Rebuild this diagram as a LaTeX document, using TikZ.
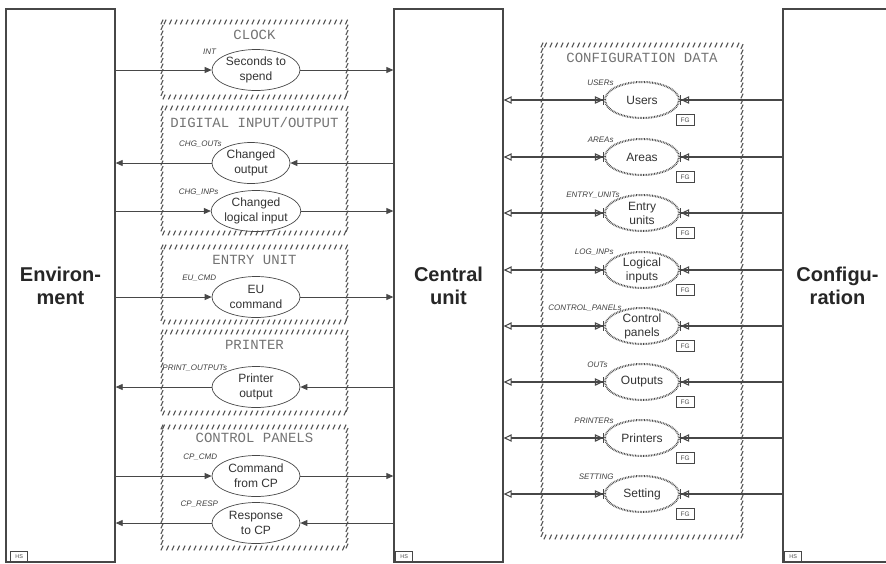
\documentclass[tikz,border=0pt]{standalone}
\usepackage{fontspec}
\setmainfont{Liberation Sans}
\newfontfamily\grpfont{Liberation Mono}
\usetikzlibrary{arrows.meta,shapes.geometric,positioning,decorations.markings}
\definecolor{ink}{gray}{0.28}
\definecolor{hatchgray}{gray}{0.33}
\tikzset{
  bigbox/.style={draw=ink,line width=1.3pt,minimum width=109pt,minimum height=553pt,inner sep=0pt,align=center,font=\fontsize{20}{23}\selectfont\bfseries,text=black!85},
  flowell/.style={ellipse,draw=ink,line width=0.7pt,minimum width=88pt,minimum height=41pt,inner sep=0pt,align=center,font=\fontsize{12}{15}\selectfont,text=black!80},
  dataell/.style={ellipse,draw=ink,line width=2pt,dash pattern=on 0.7pt off 0.9pt,minimum width=74pt,minimum height=36pt,inner sep=0pt,align=center,font=\fontsize{12}{14}\selectfont,text=black!80},
  lbl/.style={font=\fontsize{8}{9}\selectfont\itshape,text=black!75,inner sep=0.5pt,label distance=1pt},
  grptitle/.style={font=\grpfont\fontsize{14}{16}\selectfont,text=black!55},
  fg/.style={draw=ink,line width=0.6pt,font=\fontsize{6.5}{7}\selectfont,inner sep=0pt,minimum width=18pt,minimum height=11pt,text=black!70},
  hs/.style={draw=ink,line width=0.6pt,font=\fontsize{5.5}{6}\selectfont,inner sep=0pt,minimum width=17pt,minimum height=10pt,text=black!70},
  flow/.style={draw=ink,line width=0.8pt,-{Triangle[length=7pt,width=6pt]}},
  cfgflow/.style={draw=ink,line width=1.1pt,-{Triangle[open,length=8pt,width=7.5pt]Bar[width=10pt]}},
  cuflow/.style={draw=ink,line width=1.1pt,{Triangle[open,length=8pt,width=7.5pt]}-{Triangle[open,length=8pt,width=7.5pt]Bar[width=10pt]}},
  hatch/.style={postaction={decorate,decoration={markings,mark=between positions 0 and 1 step 5.5pt with {\pgftransformresetnontranslations\draw[hatchgray,line width=1.1pt] (-1.1pt,-2.4pt) -- (1.1pt,2.4pt);}}}},
}
\begin{document}
\begin{tikzpicture}[x=1pt,y=-1pt]
\clip (0,0) rectangle (886,563);
% the three units
\node[bigbox] (env) at (60.5,285.5) {Environ-\\ment};
\node[bigbox] (cu) at (448.5,285.5) {Central\\unit};
\node[bigbox] (cfg) at (837.5,285.5) {Configu-\\ration};
\node[hs,anchor=south west] (envhs) at ([xshift=5pt,yshift=1pt]env.south west) {HS};
\node[hs,anchor=south west] (cuhs) at ([xshift=2pt,yshift=1pt]cu.south west) {HS};
\node[hs,anchor=south west] (cfghs) at ([xshift=2pt,yshift=1pt]cfg.south west) {HS};
% groups between environment and central unit
\path[hatch] (162,22) rectangle (347,97);   \node[grptitle] (tclock) at (254.5,35) {CLOCK};
\path[hatch] (162,108) rectangle (347,233); \node[grptitle] (tdio) at (254.5,122) {DIGITAL INPUT/OUTPUT};
\path[hatch] (162,247) rectangle (347,322); \node[grptitle] (teu) at (254.5,260) {ENTRY UNIT};
\path[hatch] (162,332) rectangle (347,413); \node[grptitle] (tprn) at (254.5,345) {PRINTER};
\path[hatch] (162,427) rectangle (347,548); \node[grptitle] (tcp) at (254.5,438) {CONTROL PANELS};
\node[flowell,label={[lbl,xshift=-7pt]north west:INT}] (seconds) at (256,70) {Seconds to\\spend};
\node[flowell,minimum width=78pt,label={[lbl]north west:CHG\_OUTs}] (chgout) at (251,163) {Changed\\output};
\node[flowell,label={[lbl,xshift=-4pt]north west:CHG\_INPs}] (chginp) at (256,211) {Changed\\logical input};
\node[flowell,label={[lbl,xshift=-7pt]north west:EU\_CMD}] (eucmd) at (256,297) {EU\\command};
\node[flowell,label={[lbl,xshift=4pt]north west:PRINT\_OUTPUTs}] (prnout) at (256,387) {Printer\\output};
\node[flowell,label={[lbl,xshift=-6pt]north west:CP\_CMD}] (cpcmd) at (256,476) {Command\\from CP};
\node[flowell,label={[lbl,xshift=-5pt]north west:CP\_RESP}] (cpresp) at (256,523) {Response\\to CP};
\draw[flow] (env.east |- seconds) -- (seconds); \draw[flow] (seconds) -- (cu.west |- seconds);
\draw[flow] (cu.west |- chgout) -- (chgout); \draw[flow] (chgout) -- (env.east |- chgout);
\draw[flow] (env.east |- chginp) -- (chginp); \draw[flow] (chginp) -- (cu.west |- chginp);
\draw[flow] (env.east |- eucmd) -- (eucmd); \draw[flow] (eucmd) -- (cu.west |- eucmd);
\draw[flow] (cu.west |- prnout) -- (prnout); \draw[flow] (prnout) -- (env.east |- prnout);
\draw[flow] (env.east |- cpcmd) -- (cpcmd); \draw[flow] (cpcmd) -- (cu.west |- cpcmd);
\draw[flow] (cu.west |- cpresp) -- (cpresp); \draw[flow] (cpresp) -- (env.east |- cpresp);
% configuration data
\path[hatch] (542,45) rectangle (742,537); \node[grptitle] (tcfg) at (642,58) {CONFIGURATION DATA};
\node[dataell,label={[lbl]north west:USERs}] (users) at (642,100) {Users};
\node[dataell,label={[lbl]north west:AREAs}] (areas) at (642,157) {Areas};
\node[dataell,label={[lbl,xshift=6pt]north west:ENTRY\_UNITs}] (entry) at (642,213) {Entry\\units};
\node[dataell,label={[lbl]north west:LOG\_INPs}] (loginp) at (642,270) {Logical\\inputs};
\node[dataell,label={[lbl,xshift=8pt]north west:CONTROL\_PANELs}] (cpanels) at (642,326) {Control\\panels};
\node[dataell,label={[lbl,xshift=-6pt]north west:OUTs}] (outs) at (642,382) {Outputs};
\node[dataell,label={[lbl]north west:PRINTERs}] (printers) at (642,438) {Printers};
\node[dataell,label={[lbl]north west:SETTING}] (setting) at (642,494) {Setting};
\node[fg,below right=1pt and 7pt of users.south east] (usersfg) {FG};
\node[fg,below right=1pt and 7pt of areas.south east] (areasfg) {FG};
\node[fg,below right=1pt and 7pt of entry.south east] (entryfg) {FG};
\node[fg,below right=1pt and 7pt of loginp.south east] (loginpfg) {FG};
\node[fg,below right=1pt and 7pt of cpanels.south east] (cpanelsfg) {FG};
\node[fg,below right=1pt and 7pt of outs.south east] (outsfg) {FG};
\node[fg,below right=1pt and 7pt of printers.south east] (printersfg) {FG};
\node[fg,below right=1pt and 7pt of setting.south east] (settingfg) {FG};
\draw[cfgflow] (cfg.west |- users) -- (users); \draw[cuflow] (cu.east |- users) -- (users);
\draw[cfgflow] (cfg.west |- areas) -- (areas); \draw[cuflow] (cu.east |- areas) -- (areas);
\draw[cfgflow] (cfg.west |- entry) -- (entry); \draw[cuflow] (cu.east |- entry) -- (entry);
\draw[cfgflow] (cfg.west |- loginp) -- (loginp); \draw[cuflow] (cu.east |- loginp) -- (loginp);
\draw[cfgflow] (cfg.west |- cpanels) -- (cpanels); \draw[cuflow] (cu.east |- cpanels) -- (cpanels);
\draw[cfgflow] (cfg.west |- outs) -- (outs); \draw[cuflow] (cu.east |- outs) -- (outs);
\draw[cfgflow] (cfg.west |- printers) -- (printers); \draw[cuflow] (cu.east |- printers) -- (printers);
\draw[cfgflow] (cfg.west |- setting) -- (setting); \draw[cuflow] (cu.east |- setting) -- (setting);
\end{tikzpicture}
\end{document}
